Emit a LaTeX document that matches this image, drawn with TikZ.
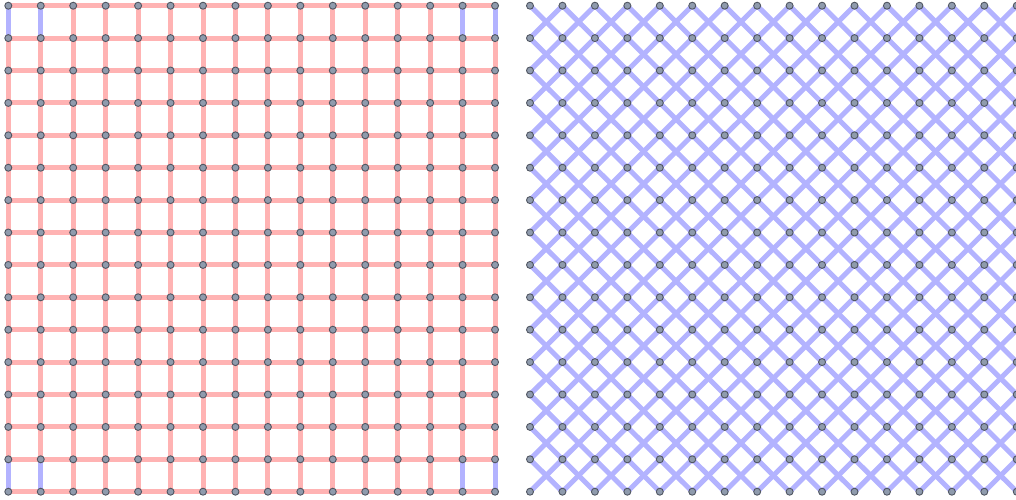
\documentclass[tikz,border=0pt]{standalone}
\usetikzlibrary{backgrounds}
\definecolor{edgered}{RGB}{255,179,179}
\definecolor{edgeblue}{RGB}{179,179,255}
\definecolor{vfill}{RGB}{143,155,173}
\definecolor{vdraw}{RGB}{80,86,98}
\tikzset{
  vtx/.style={circle,inner sep=0pt,minimum size=7pt,fill=vfill,draw=vdraw,line width=0.9pt},
  rededge/.style={draw=edgered,line width=5pt},
  blueedge/.style={draw=edgeblue,line width=5pt}
}
\begin{document}
\begin{tikzpicture}[x=1pt,y=-1pt]
\useasboundingbox (0,0) rectangle (1016,499);
\foreach \i in {0,...,15}{
  \foreach \j in {0,...,15}{
    \node[vtx] (L-\i-\j) at ({8.3+32.45*\i},{5.7+32.4*\j}) {};
    \node[vtx] (R-\i-\j) at ({530+32.45*\i},{5.7+32.4*\j}) {};
  }
}
\begin{pgfonlayer}{background}
% left grid: horizontal edges
\foreach \i in {0,...,14}{
  \pgfmathtruncatemacro{\k}{\i+1}
  \foreach \j in {0,...,15}{
    \draw[rededge] (L-\i-\j.center) -- (L-\k-\j.center);
  }
}
% left grid: vertical edges
\foreach \i in {0,...,15}{
  \foreach \j in {0,...,14}{
    \pgfmathtruncatemacro{\k}{\j+1}
    \pgfmathtruncatemacro{\isblue}{((\i<2)||(\i>13))&&((\j==0)||(\j==14))}
    \ifnum\isblue=1
      \draw[blueedge] (L-\i-\j.center) -- (L-\i-\k.center);
    \else
      \draw[rededge] (L-\i-\j.center) -- (L-\i-\k.center);
    \fi
  }
}
% right grid: diagonal edges
\foreach \i in {0,...,14}{
  \pgfmathtruncatemacro{\ii}{\i+1}
  \foreach \j in {0,...,14}{
    \pgfmathtruncatemacro{\jj}{\j+1}
    \draw[blueedge] (R-\i-\j.center) -- (R-\ii-\jj.center);
    \draw[blueedge] (R-\ii-\j.center) -- (R-\i-\jj.center);
  }
}
\end{pgfonlayer}
\end{tikzpicture}
\end{document}
